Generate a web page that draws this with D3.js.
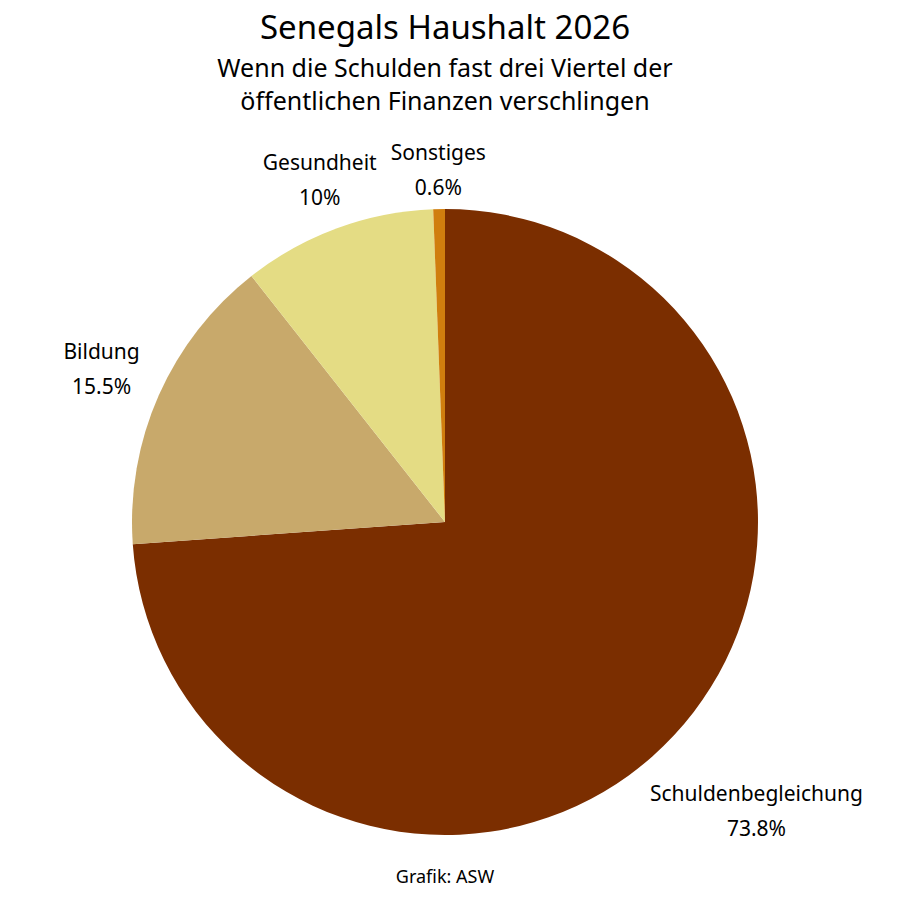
<!DOCTYPE html>
<html>
<head>
<meta charset="utf-8">
<script src="https://cdn.jsdelivr.net/npm/d3@7"></script>
<style>
  body { margin: 0; background: #fff; }
  text { font-family: "Noto Sans", sans-serif; fill: #000; }
</style>
</head>
<body>
<div id="chart"></div>
<script>
const categories = ['Schuldenbegleichung', 'Bildung', 'Gesundheit', 'Sonstiges'];
const values = [73.8, 15.5, 10, 0.6];
const valueLabels = ['73.8%', '15.5%', '10%', '0.6%'];
const colors = ['#7b2e00', '#c8a96b', '#e4dc84', '#d07e0e'];
// label distance from centre, as a multiple of the radius
const labelRadius = [1.36, 1.2, 1.16, 1.12];

const width = 900, height = 900;
const cx = 445, cy = 522, r = 313;

const svg = d3.select('#chart').append('svg')
  .attr('width', width)
  .attr('height', height);

svg.append('text').attr('x', 445).attr('y', 30).attr('text-anchor', 'middle')
  .attr('dominant-baseline', 'middle').attr('font-size', 33).text('Senegals Haushalt 2026');
svg.append('text').attr('x', 445).attr('y', 70).attr('text-anchor', 'middle')
  .attr('dominant-baseline', 'middle').attr('font-size', 25).text('Wenn die Schulden fast drei Viertel der');
svg.append('text').attr('x', 445).attr('y', 103).attr('text-anchor', 'middle')
  .attr('dominant-baseline', 'middle').attr('font-size', 25).text('öffentlichen Finanzen verschlingen');

const data = categories.map((c, i) => ({ name: c, value: values[i], label: valueLabels[i], color: colors[i], lr: labelRadius[i] }));

const pie = d3.pie().value(d => d.value).sort(null);
const arc = d3.arc().innerRadius(0).outerRadius(r);
const arcs = pie(data);

const g = svg.append('g').attr('transform', `translate(${cx},${cy})`);

g.selectAll('path')
  .data(arcs)
  .enter().append('path')
  .attr('d', arc)
  .attr('fill', d => d.data.color);

const labels = g.selectAll('g.label')
  .data(arcs)
  .enter().append('g')
  .attr('class', 'label')
  .attr('transform', d => {
    const a = (d.startAngle + d.endAngle) / 2;
    const rr = r * d.data.lr;
    return `translate(${rr * Math.sin(a)},${-rr * Math.cos(a)})`;
  });

labels.append('text')
  .attr('text-anchor', 'middle')
  .attr('y', -17)
  .attr('dominant-baseline', 'middle')
  .attr('font-size', 21)
  .text(d => d.data.name);

labels.append('text')
  .attr('text-anchor', 'middle')
  .attr('y', 18)
  .attr('dominant-baseline', 'middle')
  .attr('font-size', 21)
  .text(d => d.data.label);

svg.append('text').attr('x', 445).attr('y', 878).attr('text-anchor', 'middle')
  .attr('dominant-baseline', 'middle').attr('font-size', 18).text('Grafik: ASW');
</script>
</body>
</html>
